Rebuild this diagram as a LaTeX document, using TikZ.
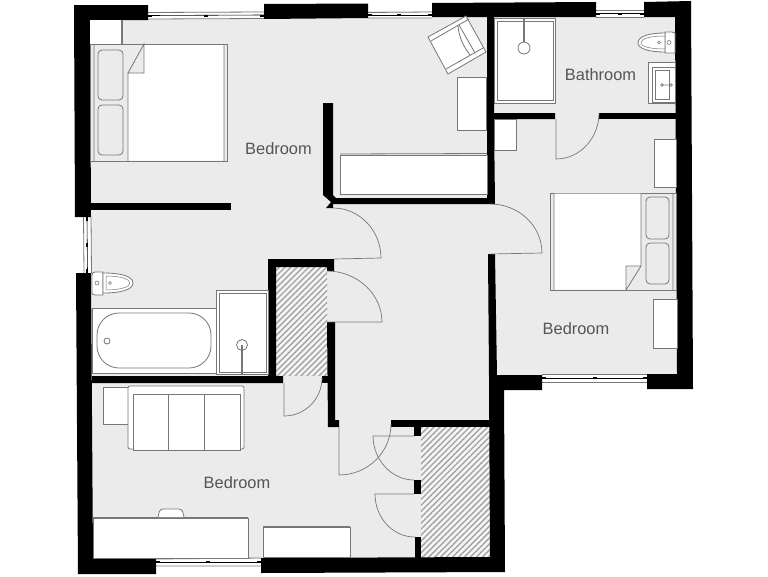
\documentclass[tikz,border=0pt]{standalone}
\usepackage{fontspec}
\setmainfont{Liberation Sans}
\usepackage{xcolor}
\usetikzlibrary{patterns.meta}
\definecolor{floorgray}{HTML}{EBEBEB}
\definecolor{linegray}{HTML}{777777}
\definecolor{labelgray}{HTML}{555555}
\tikzset{>=latex}
\tikzset{wall/.style={fill=black,draw=none}}
\tikzset{fixture/.style={fill=white,draw=linegray,line width=0.8pt}}
\tikzset{plainline/.style={draw=linegray,line width=0.8pt}}
\tikzset{doorline/.style={draw=linegray,line width=0.7pt}}
\tikzset{roomlabel/.style={text=labelgray,font=\fontsize{16.4}{18}\selectfont,inner sep=0pt}}
\tikzset{hatched/.style={fill=black!4}}
\tikzset{hatchlines/.style={pattern={Lines[angle=45,distance=4.2pt,line width=1.4pt]},pattern color=black!36}}
\begin{document}
\begin{tikzpicture}[x=1pt,y=-1pt]
\useasboundingbox (0,0) rectangle (768,576);
% floor
\fill[floorgray] (82,12) -- (684,10) -- (685,382) -- (497,382) -- (498,565) -- (85,566) -- cycle;
% windows
\fill[white] (148,12) rectangle (264,19);
\fill[white] (368,12) rectangle (432,18);
\fill[white] (596,10) rectangle (644,17);
\fill[white] (83,217) rectangle (91,273);
\fill[white] (542,374) rectangle (647,383);
\fill[white] (156,559) rectangle (261,567);
\draw[plainline] (148,12.5) -- (264,12) (148,19) -- (264,18.5);
\draw[black,line width=0.6pt] (148,15.5) -- (264,15);
\draw[plainline] (368,12.5) -- (432,12) (368,18) -- (432,18);
\draw[black,line width=0.6pt] (368,15) -- (432,15);
\draw[plainline] (596,10) -- (644,10) (596,17) -- (644,17);
\draw[black,line width=0.6pt] (596,13.5) -- (644,13.5);
\draw[plainline] (83.5,217) -- (84,273) (91,217) -- (91.5,273);
\draw[black,line width=0.6pt] (87,217) -- (87.5,273);
\draw[plainline] (542,374) -- (647,374) (542,382) -- (647,382);
\draw[black,line width=0.6pt] (542,378) -- (647,378);
\draw[plainline] (156,559) -- (261,558) (156,566) -- (261,566);
\draw[black,line width=0.6pt] (156,562) -- (261,562);
% window ticks
\foreach \tickx/\ticky in {206/15.5,150/15.5,262/15.5,399/15,370/15,430/15,620/13.5,598/13.5,642/13.5,
595/378,544/378,645/378,208/562,158/562,259/562}
  \fill[black] (\tickx-2,\ticky-1) rectangle (\tickx+2,\ticky+1);
\foreach \ticky in {219,245,271}
  \fill[black] (86,\ticky-2) rectangle (88,\ticky+2);
% hatched stores
\fill[hatched] (276,267) rectangle (327,375);
\fill[hatchlines] (276,267) rectangle (327,375);
\fill[hatched] (421,427) rectangle (490,557);
\fill[hatchlines] (421,427) rectangle (490,557);
% outer walls
\fill[wall] (74,5) -- (148,5) -- (148,20) -- (90,20) -- (91,217) -- (75,217) -- cycle;
\fill[wall] (264,4) -- (368,3.5) -- (368,18) -- (264,19) -- cycle;
\fill[wall] (432,3) -- (596,2) -- (596,17) -- (432,17) -- cycle;
\fill[wall] (644,2) -- (691,1) -- (693,389) -- (647,389) -- (647,374) -- (677,374) -- (675,17) -- (644,17) -- cycle;
\fill[wall] (489,375) -- (542,375) -- (542,390) -- (504,390) -- (505,572) -- (261,573) -- (261,558) -- (490,557) -- cycle;
\fill[wall] (76,273) -- (91,273) -- (93,559) -- (156,559) -- (156,574) -- (78,574) -- cycle;
% inner walls upper floor
\fill[wall] (323,103) -- (333,103) -- (333,195) -- (336,198) -- (487,198) -- (487,17) -- (494,17) -- (494,113) -- (555,113) -- (555,119) -- (494,119) -- (495,204) -- (333,204) -- (333,208) -- (326,208) -- (331,202) -- (323,195) -- cycle;
\fill[wall] (599,113) -- (676,113) -- (676,119) -- (599,119) -- cycle;
\fill[wall] (90,203) -- (231,203) -- (231,210) -- (90,210) -- cycle;
\fill[wall] (488,254) -- (495,254) -- (497,376) -- (489,376) -- cycle;
% closet and hall walls
\fill[wall] (268,259) -- (334,259) -- (334,271) -- (327,271) -- (327,267) -- (276,267) -- (276,376) -- (283,376) -- (283,383) -- (92,383) -- (92,376) -- (268,376) -- cycle;
\fill[wall] (327,322) -- (335,322) -- (335,420) -- (339,420) -- (339,427) -- (328,427) -- cycle;
\fill[wall] (322,376) rectangle (328,383);
\fill[wall] (391,420) -- (490,420) -- (490,427) -- (391,427) -- cycle;
\fill[wall] (414,427) rectangle (421,436);
\fill[wall] (414,480) rectangle (421,494);
\fill[wall] (415,537) rectangle (421,558);
% doors
\draw[doorline] (334,259) -- (381,258) .. controls (381,231) and (360,208) .. (333,208);
\draw[doorline] (327,322) -- (382,322) .. controls (382,294) and (357,271) .. (327,271);
\draw[doorline] (490,254) -- (542,253) .. controls (542,226) and (519,204) .. (490,204);
\draw[doorline] (556,119) -- (556,159) .. controls (580,159) and (599,138) .. (599,113);
\draw[doorline] (284,383) -- (284,416) .. controls (305,416) and (322,399) .. (322,378);
\draw[doorline] (339,427) -- (339,475) .. controls (368,475) and (391,452) .. (391,424);
\draw[doorline] (414,436) -- (373,436) .. controls (373,459) and (391,480) .. (414,480);
\draw[doorline] (414,494) -- (375,494) .. controls (375,517) and (392,537) .. (415,537);
% bed top left
\fill[white] (90,20) rectangle (122,44);
\draw[linegray,line width=1.1pt] (122,20) -- (122,44);
\draw[fixture,fill=floorgray] (90,44) rectangle (227,161);
\fill[white] (144,45) -- (224,45) -- (224,160.5) -- (128,160.5) -- (128,73) -- (144,73) -- cycle;
\draw[plainline] (94,44) -- (94,161) (224,44) -- (224,161) (128,73) -- (128,161) (128,73) -- (144,73) -- (144,44) -- cycle;
\draw[plainline,rounded corners=4pt] (98,50) rectangle (123,100);
\draw[plainline,rounded corners=4pt] (98,105) rectangle (123,155);
% wardrobe and cabinet
\draw[fixture] (340,155) rectangle (487,194);
\draw[plainline] (340,154) -- (487,153.5);
\draw[fixture] (457,77) rectangle (486,130);
% armchair
\draw[fixture] (428,37) -- (466,16) -- (486,52) -- (448,74) -- cycle;
\draw[plainline] (431,41) -- (469,19) (446,69) -- (483,48) (459,25) -- (475,53);
\draw[plainline] (458,26) .. controls (459,38) and (464,47) .. (470,55);
% shower bathroom
\draw[fixture] (494,18) rectangle (555,103);
\draw[plainline] (497,21) rectangle (553,100);
\draw[linegray,line width=1.3pt] (524,18) -- (524,42);
\draw[plainline] (524,48) circle [radius=6];
% toilet bathroom
\draw[fixture] (665,53) -- (665,32) -- (672,32) -- (675,33) -- (675,53) -- cycle;
\draw[fixture] (665,33) .. controls (650,33) and (638,36) .. (638,43) .. controls (638,49) and (650,52) .. (665,52) -- cycle;
\draw[plainline,line width=0.5pt] (665,36) .. controls (652,36) and (641,38) .. (641,43) .. controls (641,47) and (652,49) .. (665,49);
\draw[plainline,line width=0.6pt] (659,42.5) circle [radius=1.5] (669,42.5) circle [radius=2];
% sink
\draw[fixture] (648,62) rectangle (675,103);
\draw[plainline] (652,67) rectangle (675,102);
\draw[plainline] (655,70) rectangle (669,99);
\draw[plainline,line width=0.6pt] (662,85) circle [radius=1.5] -- (672,85);
\draw[plainline,line width=0.6pt] (671,85) circle [radius=1.5];
% right bedroom cabinets
\draw[fixture] (494,119) rectangle (516,150);
\draw[fixture] (654,139) rectangle (676,187);
\draw[fixture] (653,299) rectangle (677,348);
% bed right
\draw[fixture,fill=floorgray] (550,193) rectangle (676,290);
\fill[white] (554,193.5) -- (641,193.5) -- (641,266) -- (626,266) -- (626,289.5) -- (554,289.5) -- cycle;
\draw[plainline] (554,193) -- (554,290) (673,193) -- (673,290) (641,193) -- (641,266) -- (626,266) -- (626,290) (641,266) -- (626,290);
\draw[plainline,rounded corners=4pt] (646,197) rectangle (669,239);
\draw[plainline,rounded corners=4pt] (646,243) rectangle (669,284);
% left bathroom
\draw[fixture] (103,272) -- (95,272) .. controls (93,272) and (92,273) .. (92,275) -- (92,293) .. controls (92,295) and (94,295) .. (96,295) -- (103,295) -- cycle;
\draw[fixture] (103,273) .. controls (120,273) and (133,276) .. (133,283) .. controls (133,290) and (120,293) .. (103,293) -- cycle;
\draw[plainline,line width=0.5pt] (106,276) .. controls (120,276) and (130,279) .. (130,283) .. controls (130,287) and (120,290) .. (106,290) -- cycle;
\draw[plainline,line width=0.6pt] (97,283) circle [radius=2] (110,283) circle [radius=1.5];
\draw[fixture] (92,308) rectangle (216,373);
\draw[plainline,rounded corners=22pt] (97,313) rectangle (211,368);
\draw[plainline] (107,341) circle [radius=3];
\draw[fixture] (216,290) rectangle (268,374);
\draw[plainline] (219,293) rectangle (266,372);
\draw[plainline] (242,345) circle [radius=5.5];
\draw[linegray,line width=1.3pt] (242,345) -- (242,375);
% lower bedroom furniture
\draw[fixture] (103,387) rectangle (128,424);
\draw[fixture,rounded corners=2pt] (128,386) rectangle (244,449);
\draw[fixture] (133,394) rectangle (240,450);
\draw[plainline] (168,394) -- (168,450) (204,394) -- (204,450);
\draw[fixture] (93,518) rectangle (248,558);
\draw[linegray,line width=1.4pt] (93,518) -- (248,518);
\draw[fixture,rounded corners=3pt] (158,517) -- (160,509) -- (182,509) -- (184,517);
\draw[fixture] (263,527) rectangle (350,557);
\draw[linegray,line width=1.1pt] (263,527) -- (350,527);
% labels
\node[roomlabel] (bedroomtop) at (278.5,149) {Bedroom};
\node[roomlabel] (bathroom) at (600.5,75) {Bathroom};
\node[roomlabel] (bedroomright) at (576,329) {Bedroom};
\node[roomlabel] (bedroomlow) at (237,483) {Bedroom};
\end{tikzpicture}
\end{document}
